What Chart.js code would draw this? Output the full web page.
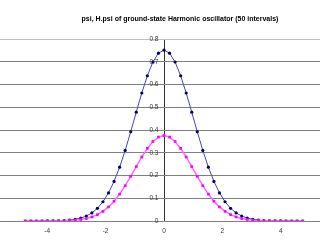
<!DOCTYPE html>
<html>
<head>
<meta charset="utf-8">
<script src="https://cdn.jsdelivr.net/npm/chart.js@4/dist/chart.umd.min.js"></script>
<style>
  html, body { margin: 0; padding: 0; background: #fff; overflow: hidden; }
  #wrap { position: relative; width: 320px; height: 240px; }
  #title { position: absolute; left: 20px; top: 15px; width: 320px; text-align: center;
           font: bold 7px "Liberation Sans", Arial, sans-serif; color: #000; white-space: nowrap; }
</style>
</head>
<body>
<div id="wrap">
  <div id="title">psi, H.psi of ground-state Harmonic oscillator (50 intervals)</div>
  <canvas id="myChart" width="320" height="240"></canvas>
</div>
<script>
// x positions (50 intervals)
var xs = [-4.75, -4.56, -4.37, -4.18, -3.99, -3.80, -3.61, -3.42, -3.23, -3.04,
          -2.85, -2.66, -2.47, -2.28, -2.09, -1.90, -1.71, -1.52, -1.33, -1.14,
          -0.95, -0.76, -0.57, -0.38, -0.19, 0, 0.19, 0.38, 0.57, 0.76,
          0.95, 1.14, 1.33, 1.52, 1.71, 1.90, 2.09, 2.28, 2.47, 2.66,
          2.85, 3.04, 3.23, 3.42, 3.61, 3.80, 3.99, 4.18, 4.37, 4.56, 4.75];

// psi
var psi = [0.0000, 0.0000, 0.0000, 0.0001, 0.0003, 0.0005, 0.0011, 0.0022, 0.0041, 0.0074,
           0.0129, 0.0218, 0.0356, 0.0558, 0.0846, 0.1235, 0.1741, 0.2366, 0.3102, 0.3922,
           0.4783, 0.5627, 0.6385, 0.6988, 0.7377, 0.7511, 0.7377, 0.6988, 0.6385, 0.5627,
           0.4783, 0.3922, 0.3102, 0.2366, 0.1741, 0.1235, 0.0846, 0.0558, 0.0356, 0.0218,
           0.0129, 0.0074, 0.0041, 0.0022, 0.0011, 0.0005, 0.0003, 0.0001, 0.0000, 0.0000, 0.0000];

// H.psi
var hpsi = [0.0000, 0.0000, 0.0000, 0.0001, 0.0001, 0.0003, 0.0006, 0.0011, 0.0020, 0.0037,
            0.0065, 0.0109, 0.0178, 0.0279, 0.0423, 0.0618, 0.0871, 0.1183, 0.1551, 0.1961,
            0.2392, 0.2814, 0.3193, 0.3494, 0.3689, 0.3756, 0.3689, 0.3494, 0.3193, 0.2814,
            0.2392, 0.1961, 0.1551, 0.1183, 0.0871, 0.0618, 0.0423, 0.0279, 0.0178, 0.0109,
            0.0065, 0.0037, 0.0020, 0.0011, 0.0006, 0.0003, 0.0001, 0.0001, 0.0000, 0.0000, 0.0000];

var xTicks = [-4, -2, 0, 2, 4];
var yTicks = [0, 0.1, 0.2, 0.3, 0.4, 0.5, 0.6, 0.7, 0.8];

function toPoints(ys) {
    return xs.map(function (x, i) { return { x: x, y: ys[i] }; });
}

var ctx = document.getElementById('myChart');
var myChart = new Chart(ctx, {
    type: 'scatter',
    data: {
        datasets: [{
            label: 'psi',
            data: toPoints(psi),
            showLine: true,
            borderColor: '#4646b4',
            borderWidth: 1,
            pointBackgroundColor: '#000066',
            pointBorderColor: '#000066',
            pointRadius: 1.6,
            pointBorderWidth: 0,
            order: 1
        }, {
            label: 'H.psi',
            data: toPoints(hpsi),
            showLine: true,
            borderColor: '#ff66ff',
            borderWidth: 1.5,
            pointStyle: 'rect',
            pointBackgroundColor: '#ff00ff',
            pointBorderColor: '#ff00ff',
            pointRadius: 1.9,
            pointBorderWidth: 0,
            order: 0
        }]
    },
    options: {
        responsive: false,
        animation: false,
        layout: { padding: { top: 39, left: 0, right: 0, bottom: 0 }, autoPadding: false },
        plugins: {
            legend: { display: false },
            tooltip: { enabled: false },
            title: { display: false }
        },
        scales: {
            x: {
                type: 'linear',
                min: -5.616,
                max: 5.342,
                afterBuildTicks: function (s) { s.ticks = xTicks.map(function (v) { return { value: v }; }); },
                afterFit: function (s) { s.height = 19; },
                // only the gridline at x = 0 is shown: it is the vertical axis line
                grid: {
                    drawTicks: false,
                    lineWidth: 1,
                    color: function (c) { return c.tick && c.tick.value === 0 ? '#333' : 'rgba(0,0,0,0)'; }
                },
                border: { display: false },
                ticks: {
                    padding: 6,
                    color: '#333',
                    font: { family: 'Liberation Sans', size: 6.5 }
                }
            },
            y: {
                type: 'linear',
                position: { x: -0.19 },
                min: 0,
                max: 0.8,
                afterBuildTicks: function (s) { s.ticks = yTicks.map(function (v) { return { value: v }; }); },
                afterFit: function (s) { s.width = 0; },
                grid: {
                    color: function (c) { return c.tick && c.tick.value === 0.8 ? '#c0c0c0' : '#808080'; },
                    lineWidth: 1,
                    drawTicks: false
                },
                border: { display: false },
                ticks: {
                    color: '#333',
                    font: { family: 'Liberation Sans', size: 6.5 }
                }
            }
        }
    }
});
</script>
</body>
</html>
